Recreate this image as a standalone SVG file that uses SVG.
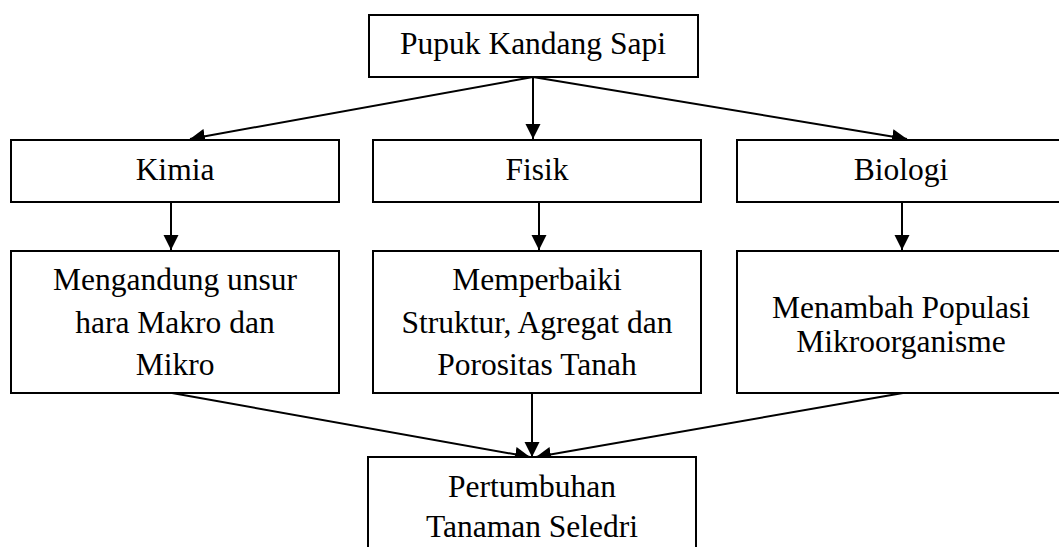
<svg xmlns="http://www.w3.org/2000/svg" width="1059" height="547" viewBox="0 0 1059 547">
<style>
.box{fill:#fff;stroke:#000;stroke-width:2}
.t{font-family:"Liberation Serif","Times New Roman",serif;font-size:31.5px;fill:#000;text-anchor:middle}
.c{stroke:#000;stroke-width:2;fill:none;marker-end:url(#ah)}
</style>
<defs>
<marker id="ah" markerUnits="userSpaceOnUse" markerWidth="16" markerHeight="16" refX="15" refY="8" orient="auto" viewBox="0 0 16 16">
<path d="M0,0.5 L15,8 L0,15.5 z" fill="#000"/>
</marker>
</defs>
<rect width="1059" height="547" fill="#fff"/>
<g id="connectors">
<line class="c" x1="533" y1="77" x2="533" y2="139"/>
<line class="c" x1="533" y1="77" x2="190" y2="139"/>
<line class="c" x1="533" y1="77" x2="907" y2="139"/>
<line class="c" x1="171" y1="202" x2="171" y2="250"/>
<line class="c" x1="539" y1="202" x2="539" y2="250"/>
<line class="c" x1="902" y1="202" x2="902" y2="250"/>
<line class="c" x1="172" y1="393" x2="530" y2="457"/>
<line class="c" x1="532" y1="393" x2="532" y2="457"/>
<line class="c" x1="903" y1="393" x2="536" y2="457"/>
</g>
<g id="pupuk">
<rect class="box" x="369" y="15" width="329" height="62"/>
<text class="t" x="533" y="54">Pupuk Kandang Sapi</text>
</g>
<g id="kimia">
<rect class="box" x="11" y="140" width="328" height="62"/>
<text class="t" x="175" y="180">Kimia</text>
</g>
<g id="fisik">
<rect class="box" x="373" y="140" width="328" height="62"/>
<text class="t" x="537" y="180">Fisik</text>
</g>
<g id="biologi">
<rect class="box" x="737" y="140" width="330" height="62"/>
<text class="t" x="901" y="180">Biologi</text>
</g>
<g id="unsur">
<rect class="box" x="11" y="251" width="328" height="142"/>
<text class="t" x="175" y="290">Mengandung unsur</text>
<text class="t" x="175" y="333">hara Makro dan</text>
<text class="t" x="175" y="375">Mikro</text>
</g>
<g id="struktur">
<rect class="box" x="373" y="251" width="328" height="142"/>
<text class="t" x="537" y="290">Memperbaiki</text>
<text class="t" x="537" y="333">Struktur, Agregat dan</text>
<text class="t" x="537" y="375">Porositas Tanah</text>
</g>
<g id="populasi">
<rect class="box" x="737" y="251" width="330" height="142"/>
<text class="t" x="901" y="318">Menambah Populasi</text>
<text class="t" x="901" y="352">Mikroorganisme</text>
</g>
<g id="pertumbuhan">
<rect class="box" x="368" y="457" width="328" height="100"/>
<text class="t" x="532" y="497">Pertumbuhan</text>
<text class="t" x="532" y="537">Tanaman Seledri</text>
</g>
</svg>
